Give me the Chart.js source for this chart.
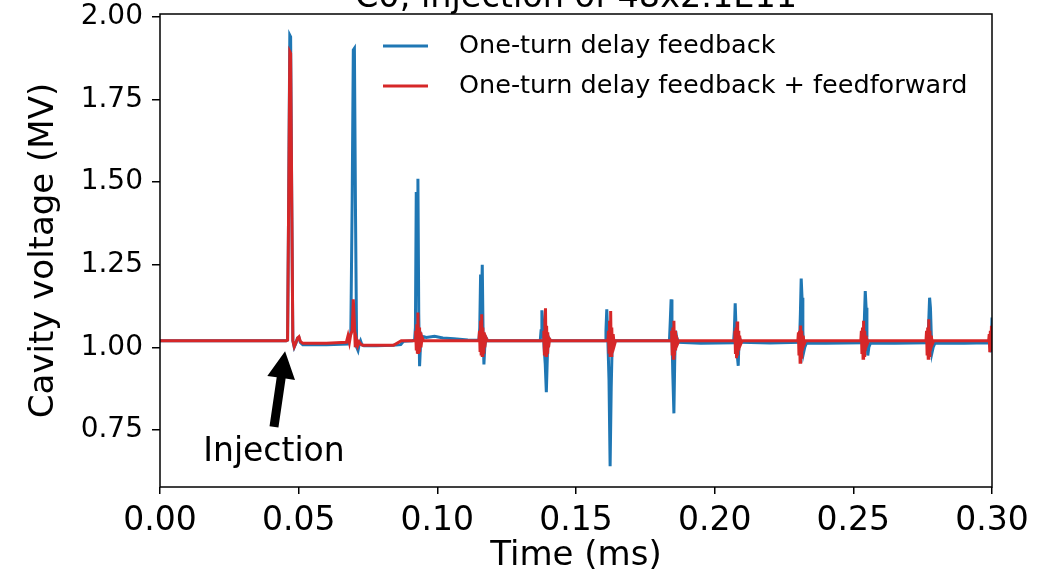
<!DOCTYPE html>
<html><head><meta charset="utf-8">
<script src="https://cdn.jsdelivr.net/npm/chart.js@4/dist/chart.umd.min.js"></script>
<style>html,body{margin:0;padding:0;background:#fff;} canvas{display:block;}</style>
</head><body>
<canvas id="c" width="1038" height="573"></canvas>
<script>
// ---------------- data ----------------
const titleText = 'C0, injection of 48x2.1E11';
const seriesNames = ['One-turn delay feedback', 'One-turn delay feedback + feedforward'];
const xAxisTitle = 'Time (ms)';
const yAxisTitle = 'Cavity voltage (MV)';
const annotationText = 'Injection';
const xTicks = [0.00, 0.05, 0.10, 0.15, 0.20, 0.25, 0.30];
const yTicks = [0.75, 1.00, 1.25, 1.50, 1.75, 2.00];

const blueTime = [
  0, 0.0455, 0.0460, 0.0464, 0.0468, 0.0471, 0.0475, 0.0479, 0.0484, 0.0490, 0.0496, 0.0501, 0.0506, 0.0515, 0.0600, 0.0676,
  0.0681, 0.0688, 0.0693, 0.0697, 0.0701, 0.0705, 0.0709, 0.0714, 0.0719, 0.0723, 0.0728, 0.0735, 0.0780, 0.0840, 0.0868, 0.0878, 0.0910, 0.0918,
  0.0921, 0.0924, 0.0927, 0.0930, 0.0933, 0.0936, 0.0939, 0.0942, 0.0946, 0.0952, 0.0960, 0.0990, 0.1020, 0.1060, 0.1110, 0.1150,
  0.1153, 0.1156, 0.1159, 0.1162, 0.1165, 0.1168, 0.1171, 0.1175, 0.1182, 0.1300, 0.1371,
  0.1374, 0.1377, 0.1381, 0.1385, 0.1389, 0.1393, 0.1397, 0.1401, 0.1407, 0.1500, 0.1605,
  0.1608, 0.1611, 0.1615, 0.1619, 0.1623, 0.1627, 0.1631, 0.1637, 0.1700, 0.1837,
  0.1840, 0.1843, 0.1846, 0.1849, 0.1853, 0.1856, 0.1859, 0.1863, 0.1870, 0.1950, 0.2068,
  0.2071, 0.2074, 0.2077, 0.2081, 0.2085, 0.2088, 0.2091, 0.2097, 0.2200, 0.2306,
  0.2309, 0.2312, 0.2315, 0.2318, 0.2321, 0.2325, 0.2331, 0.2400, 0.2537,
  0.2540, 0.2543, 0.2546, 0.2549, 0.2552, 0.2556, 0.2562, 0.2650, 0.2769,
  0.2772, 0.2775, 0.2778, 0.2781, 0.2784, 0.2788, 0.2794, 0.2900, 0.2990,
  0.2994, 0.2997, 0.3000
];
const blueVolt = [
  1.020, 1.020, 1.022, 1.45, 1.945, 1.94, 1.45, 1.02, 1.000, 1.012, 1.028, 1.030, 1.015, 1.008, 1.008, 1.010,
  1.030, 1.040, 1.45, 1.90, 1.905, 1.40, 1.00, 0.990, 1.012, 1.020, 1.008, 1.005, 1.005, 1.006, 1.008, 1.018, 1.020, 1.022,
  1.06, 1.47, 1.25, 1.51, 1.10, 0.943, 1.00, 1.035, 1.025, 1.032, 1.030, 1.033, 1.028, 1.026, 1.022, 1.021,
  1.06, 1.22, 1.12, 1.25, 1.04, 0.948, 1.00, 1.03, 1.020, 1.020, 1.020,
  1.05, 1.112, 1.06, 1.00, 0.95, 0.864, 0.98, 1.03, 1.020, 1.020, 1.020,
  1.05, 1.115, 1.02, 0.90, 0.640, 0.88, 1.03, 1.020, 1.020, 1.020,
  1.08, 1.145, 1.04, 0.92, 0.800, 0.96, 1.05, 1.03, 1.015, 1.012, 1.014,
  1.05, 1.133, 1.06, 0.98, 0.944, 1.03, 1.03, 1.015, 1.013, 1.015,
  1.10, 1.208, 1.15, 1.05, 0.985, 1.00, 1.013, 1.012, 1.014,
  1.09, 1.17, 1.12, 1.03, 0.975, 1.00, 1.013, 1.012, 1.014,
  1.08, 1.15, 1.12, 1.04, 0.985, 1.00, 1.012, 1.012, 1.014,
  1.00, 0.985, 1.09
];

const redTime = [
  0, 0.0455, 0.0460, 0.0464, 0.0468, 0.0471, 0.0475, 0.0479, 0.0484, 0.0490, 0.0496, 0.0501, 0.0506, 0.0515, 0.0600, 0.0672,
  0.0678, 0.0683, 0.0688, 0.0693, 0.0697, 0.0700, 0.0704, 0.0708, 0.0713, 0.0718, 0.0723, 0.0730, 0.0800, 0.0842, 0.0870, 0.0920,
  0.0922, 0.0924, 0.0926, 0.0928, 0.0930, 0.0932, 0.0934, 0.0936, 0.0938, 0.0941, 0.0945, 0.0950, 0.1150,
  0.1152, 0.1154, 0.1156, 0.1158, 0.1160, 0.1162, 0.1164, 0.1166, 0.1168, 0.1171, 0.1175, 0.1180, 0.1382,
  0.1384, 0.1386, 0.1388, 0.1390, 0.1392, 0.1394, 0.1396, 0.1398, 0.1401, 0.1405, 0.1410, 0.1615,
  0.1617, 0.1619, 0.1621, 0.1623, 0.1625, 0.1627, 0.1629, 0.1631, 0.1634, 0.1638, 0.1643, 0.1843,
  0.1845, 0.1847, 0.1849, 0.1851, 0.1853, 0.1855, 0.1857, 0.1859, 0.1862, 0.1866, 0.1871, 0.2071,
  0.2073, 0.2075, 0.2077, 0.2079, 0.2081, 0.2083, 0.2085, 0.2087, 0.2090, 0.2094, 0.2099, 0.2300,
  0.2302, 0.2304, 0.2306, 0.2308, 0.2310, 0.2312, 0.2314, 0.2316, 0.2319, 0.2323, 0.2328, 0.2527,
  0.2529, 0.2531, 0.2533, 0.2535, 0.2537, 0.2539, 0.2541, 0.2543, 0.2546, 0.2550, 0.2555, 0.2762,
  0.2764, 0.2766, 0.2768, 0.2770, 0.2772, 0.2774, 0.2776, 0.2778, 0.2781, 0.2785, 0.2790, 0.2988,
  0.2990, 0.2992, 0.2994, 0.2996, 0.2998, 0.3000
];
const redVolt = [
  1.020, 1.020, 1.022, 1.45, 1.895, 1.89, 1.45, 1.02, 1.002, 1.014, 1.028, 1.032, 1.018, 1.012, 1.012, 1.015,
  1.035, 1.015, 1.04, 1.05, 1.145, 1.09, 1.00, 1.025, 1.005, 1.016, 1.010, 1.006, 1.006, 1.006, 1.020, 1.020,
  1.05, 0.995, 1.07, 0.985, 1.105, 0.98, 1.06, 0.985, 1.045, 1.00, 1.03, 1.02, 1.020,
  1.05, 0.99, 1.08, 0.98, 1.10, 0.975, 1.06, 0.985, 1.045, 1.00, 1.03, 1.02, 1.020,
  1.05, 0.98, 1.08, 1.118, 0.975, 1.065, 0.985, 1.045, 1.00, 1.025, 1.02, 1.020,
  1.05, 0.985, 1.08, 0.975, 1.11, 0.975, 1.06, 0.99, 1.04, 1.005, 1.02, 1.020,
  1.05, 0.98, 1.06, 0.967, 1.08, 0.975, 1.05, 0.99, 1.035, 1.01, 1.02, 1.020,
  1.05, 0.98, 1.06, 0.967, 1.078, 0.975, 1.05, 0.99, 1.035, 1.01, 1.02, 1.020,
  1.045, 0.975, 1.05, 0.955, 1.066, 0.97, 1.05, 0.99, 1.035, 1.01, 1.02, 1.020,
  1.05, 0.98, 1.06, 0.967, 1.08, 0.975, 1.05, 0.99, 1.035, 1.01, 1.02, 1.020,
  1.05, 0.98, 1.06, 0.967, 1.085, 0.975, 1.05, 0.99, 1.035, 1.01, 1.02, 1.020,
  1.04, 0.985, 1.05, 0.99, 1.065, 1.00
];

// annotation anchors (data coordinates)
const arrowTail = {x: 0.0411, y: 0.759};
const arrowTip = {x: 0.0451, y: 0.988};
const annotationPos = {x: 0.0411, y: 0.655};

// ---------------- chart ----------------
const FONT = "'DejaVu Sans', sans-serif";
const BLUE = '#1f77b4', RED = '#d62728';

const extrasPlugin = {
  id: 'extras',
  afterDraw(chart) {
    const {ctx, chartArea: a, scales} = chart;
    ctx.save();
    ctx.strokeStyle = '#000';
    ctx.lineWidth = 1.5;
    ctx.strokeRect(a.left, a.top, a.right - a.left, a.bottom - a.top);
    ctx.fillStyle = '#000';
    ctx.font = '33.5px ' + FONT;
    ctx.textAlign = 'center';
    ctx.textBaseline = 'alphabetic';
    ctx.fillText(titleText, (a.left + a.right) / 2, 7);
    const items = [[seriesNames[0], BLUE, 46], [seriesNames[1], RED, 86]];
    ctx.font = '25.5px ' + FONT;
    ctx.textAlign = 'left';
    ctx.textBaseline = 'middle';
    for (const [txt, col, yy] of items) {
      ctx.strokeStyle = col; ctx.lineWidth = 3;
      ctx.beginPath(); ctx.moveTo(383, yy); ctx.lineTo(428, yy); ctx.stroke();
      ctx.fillStyle = '#000';
      ctx.fillText(txt, 459, yy);
    }
    const tx = scales.x.getPixelForValue(arrowTail.x), ty = scales.y.getPixelForValue(arrowTail.y);
    const hx = scales.x.getPixelForValue(arrowTip.x), hy = scales.y.getPixelForValue(arrowTip.y);
    const ang = Math.atan2(hy - ty, hx - tx);
    const len = Math.hypot(hx - tx, hy - ty);
    ctx.translate(tx, ty);
    ctx.rotate(ang);
    ctx.fillStyle = '#000';
    const headL = 27, headW = 14, shaftW = 4.5;
    ctx.beginPath();
    ctx.moveTo(0, -shaftW);
    ctx.lineTo(len - headL, -shaftW);
    ctx.lineTo(len - headL, -headW);
    ctx.lineTo(len, 0);
    ctx.lineTo(len - headL, headW);
    ctx.lineTo(len - headL, shaftW);
    ctx.lineTo(0, shaftW);
    ctx.closePath();
    ctx.fill();
    ctx.setTransform(1, 0, 0, 1, 0, 0);
    ctx.font = '33px ' + FONT;
    ctx.textAlign = 'center';
    ctx.textBaseline = 'alphabetic';
    ctx.fillText(annotationText, scales.x.getPixelForValue(annotationPos.x), scales.y.getPixelForValue(annotationPos.y));
    ctx.restore();
  }
};

new Chart(document.getElementById('c'), {
  type: 'line',
  data: {
    datasets: [
      {label: seriesNames[0], data: blueTime.map((t, i) => ({x: t, y: blueVolt[i]})),
       borderColor: BLUE, backgroundColor: BLUE, borderWidth: 3, pointRadius: 0, tension: 0, fill: false, order: 2},
      {label: seriesNames[1], data: redTime.map((t, i) => ({x: t, y: redVolt[i]})),
       borderColor: RED, backgroundColor: RED, borderWidth: 3, pointRadius: 0, tension: 0, fill: false, order: 1}
    ]
  },
  options: {
    responsive: false, animation: false, devicePixelRatio: 1,
    layout: {padding: {top: 14, right: 46, bottom: 0, left: 0}},
    plugins: {legend: {display: false}, tooltip: {enabled: false}, title: {display: false}},
    scales: {
      x: {
        type: 'linear', min: 0, max: 0.30,
        afterBuildTicks: s => { s.ticks = xTicks.map(v => ({value: v})); },
        afterFit: s => { s.height = 86; s.paddingLeft = 0; s.paddingRight = 0; },
        ticks: {callback: v => Number(v).toFixed(2), font: {family: FONT, size: 33}, color: '#000', padding: 8, maxRotation: 0, autoSkip: false},
        grid: {display: true, drawOnChartArea: false, drawTicks: true, tickLength: 7, color: '#000', lineWidth: 1.5},
        border: {display: false},
        title: {display: true, text: xAxisTitle, font: {family: FONT, size: 34}, color: '#000', padding: {top: 0, bottom: -3.5}}
      },
      y: {
        type: 'linear', min: 0.577, max: 2.009,
        afterBuildTicks: s => { s.ticks = yTicks.map(v => ({value: v})); },
        afterFit: s => { s.width = 160; s.paddingTop = 0; s.paddingBottom = 0; },
        ticks: {callback: v => Number(v).toFixed(2), font: {family: FONT, size: 28}, color: '#000', padding: 9, autoSkip: false},
        grid: {display: true, drawOnChartArea: false, drawTicks: true, tickLength: 8, color: '#000', lineWidth: 1.5},
        border: {display: false},
        title: {display: true, text: yAxisTitle, font: {family: FONT, size: 34}, color: '#000', padding: {top: 23.5, bottom: 0}}
      }
    }
  },
  plugins: [extrasPlugin]
});
</script>
</body></html>
